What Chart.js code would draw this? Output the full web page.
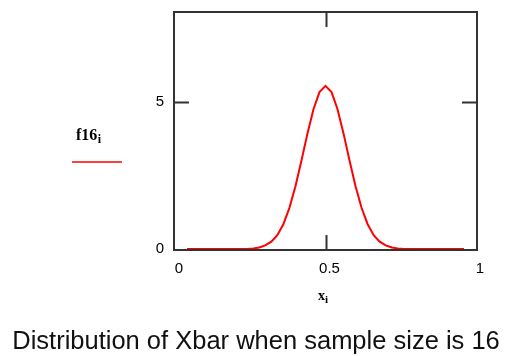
<!DOCTYPE html>
<html><head><meta charset="utf-8">
<script src="https://cdn.jsdelivr.net/npm/chart.js@4.4.1/dist/chart.umd.min.js"></script>
<style>html,body{margin:0;padding:0;background:#fff;}canvas{display:block;}</style>
</head><body>
<canvas id="c" width="506" height="356"></canvas>
<script>
const xValues = [0.04,0.06,0.08,0.10,0.12,0.14,0.16,0.18,0.20,0.22,0.24,0.26,0.28,0.30,0.32,0.34,0.36,0.38,0.40,0.42,0.44,0.46,0.48,0.50,0.52,0.54,0.56,0.58,0.60,0.62,0.64,0.66,0.68,0.70,0.72,0.74,0.76,0.78,0.80,0.82,0.84,0.86,0.88,0.90,0.92,0.94,0.96];
const f16Values = [0,0,0,0,0,0,0,0,0,0,0,0.02,0.05,0.12,0.25,0.47,0.84,1.39,2.12,2.99,3.91,4.74,5.32,5.53,5.32,4.74,3.91,2.99,2.12,1.39,0.84,0.47,0.25,0.12,0.05,0.02,0,0,0,0,0,0,0,0,0,0,0];
const xTicks = [0, 0.5, 1];
const yTicks = [0, 5];
const seriesName = 'f16';
const seriesSub = 'i';
const xAxisName = 'x';
const xAxisSub = 'i';
const caption = 'Distribution of Xbar when sample size is 16';

const points = xValues.map((x, i) => ({x: x, y: f16Values[i]}));

const framePlugin = {
  id: 'frame',
  afterDraw(chart) {
    const ctx = chart.ctx;
    const a = chart.chartArea;
    const xs = chart.scales.x, ys = chart.scales.y;
    ctx.save();
    ctx.strokeStyle = '#333';
    ctx.lineWidth = 2;
    ctx.strokeRect(a.left - 1, a.top - 1, a.right - a.left + 2, a.bottom - a.top + 2);
    const tl = 14;
    ctx.beginPath();
    xTicks.forEach(v => {
      if (v === xs.min || v === xs.max) return;
      const px = Math.round(xs.getPixelForValue(v)) + 0.5;
      ctx.moveTo(px, a.top); ctx.lineTo(px, a.top + tl);
      ctx.moveTo(px, a.bottom); ctx.lineTo(px, a.bottom - tl);
    });
    yTicks.forEach(v => {
      if (v === ys.min || v === ys.max) return;
      const py = Math.round(ys.getPixelForValue(v)) + 0.5;
      ctx.moveTo(a.left, py); ctx.lineTo(a.left + tl, py);
      ctx.moveTo(a.right, py); ctx.lineTo(a.right - tl, py);
    });
    ctx.stroke();

    ctx.fillStyle = '#000';
    ctx.textBaseline = 'alphabetic';
    ctx.textAlign = 'left';
    ctx.font = 'bold 16px "Liberation Serif"';
    ctx.fillText(seriesName, 76, 140);
    const w1 = ctx.measureText(seriesName).width;
    ctx.font = 'bold 12px "Liberation Serif"';
    ctx.fillText(seriesSub, 76 + w1 + 0.5, 143);
    ctx.strokeStyle = '#ff0000';
    ctx.lineWidth = 1.5;
    ctx.beginPath();
    ctx.moveTo(72, 162); ctx.lineTo(122, 162);
    ctx.stroke();

    ctx.fillStyle = '#000';
    ctx.font = 'bold 14px "Liberation Serif"';
    ctx.fillText(xAxisName, 318, 300);
    const w2 = ctx.measureText(xAxisName).width;
    ctx.font = 'bold 11px "Liberation Serif"';
    ctx.fillText(xAxisSub, 318 + w2, 303);

    ctx.font = '25.5px "Liberation Sans"';
    ctx.textAlign = 'center';
    ctx.fillStyle = '#111';
    ctx.fillText(caption, 256, 349);
    ctx.restore();
  }
};

new Chart(document.getElementById('c'), {
  type: 'scatter',
  data: {
    datasets: [{
      data: points,
      showLine: true,
      borderColor: '#ff0000',
      borderWidth: 2,
      pointRadius: 0,
      tension: 0,
      fill: false
    }]
  },
  options: {
    responsive: false,
    animation: false,
    devicePixelRatio: 1,
    layout: {padding: {left: 0, right: 30, top: 13, bottom: 0}},
    plugins: {legend: {display: false}, tooltip: {enabled: false}, title: {display: false}},
    scales: {
      x: {
        type: 'linear', min: 0, max: 1,
        afterBuildTicks: s => { s.ticks = xTicks.map(v => ({value: v})); },
        afterFit: s => { s.height = 107; s.paddingLeft = 0; s.paddingRight = 0; },
        grid: {display: false, drawTicks: false},
        border: {display: false},
        ticks: {
          font: {family: 'Liberation Sans', size: 15},
          color: '#000', padding: 11, labelOffset: 4, maxRotation: 0,
          autoSkip: false,
          callback: v => String(v)
        }
      },
      y: {
        type: 'linear', min: 0, max: 8,
        afterBuildTicks: s => { s.ticks = yTicks.map(v => ({value: v})); },
        afterFit: s => { s.width = 175; s.paddingTop = 0; s.paddingBottom = 0; },
        grid: {display: false, drawTicks: false},
        border: {display: false},
        ticks: {
          font: {family: 'Liberation Sans', size: 15},
          color: '#000', padding: 11, autoSkip: false,
          callback: v => String(v)
        }
      }
    }
  },
  plugins: [framePlugin]
});
</script>
</body></html>
